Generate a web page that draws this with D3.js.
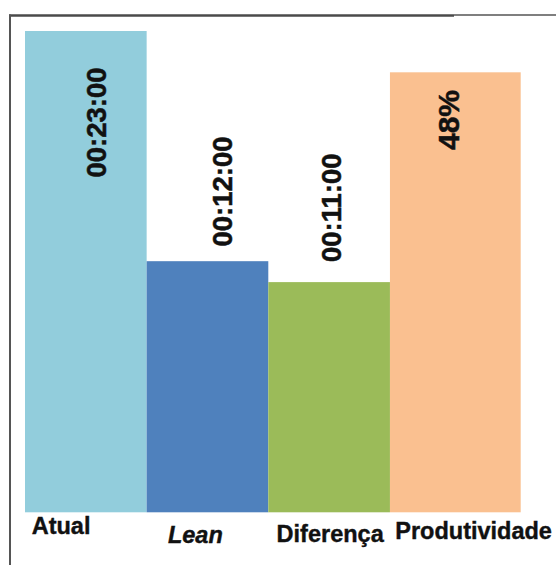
<!DOCTYPE html>
<html>
<head>
<meta charset="utf-8">
<script src="https://cdn.jsdelivr.net/npm/d3@7"></script>
<style>
  html, body { margin: 0; padding: 0; background: #fff; }
  svg { display: block; }
</style>
</head>
<body>
<script>
// ---- data ----
const categories = ["Atual", "Lean", "Diferença", "Produtividade"];
const timeMinutes = [23, 12, 11, null];          // Atual, Lean, Diferença (mm)
const productivity = [null, null, null, 0.48];   // 48%
const valueLabels = ["00:23:00", "00:12:00", "00:11:00", "48%"];
const colors = ["#92CDDC", "#4F81BD", "#9BBB59", "#FAC090"];

// ---- layout (not data) ----
const W = 556, H = 565;
const baseY = 512.3, topY = 31;
const labelLayout = [ // dx from bar center to text baseline, dy from bar top to text center, font size
  { dx: 20.2, dy: 91.5, fs: 27.5 },
  { dx: 24.5, dy: -69.7, fs: 27.5 },
  { dx: 11.8, dy: -74.3, fs: 27.5 },
  { dx: 3.8, dy: 47.7, fs: 30 }
];
const catLayout = [ // dx from bar left, baseline y, italic
  { dx: 6.7, y: 534, it: false },
  { dx: 21.3, y: 543, it: true },
  { dx: 8.3, y: 542, it: false },
  { dx: 5.3, y: 538.5, it: false }
];
const lastExtra = 9.1;

const svg = d3.select("body").append("svg").attr("width", W).attr("height", H);

const x = d3.scaleBand().domain(categories).range([25, 511.6]).padding(0);
const y = d3.scaleLinear().domain([0, 23]).range([baseY, topY]);
const y2 = d3.scaleLinear().domain([0, 0.48 * (baseY - topY) / (baseY - 72.3)]).range([baseY, topY]);

const rows = categories.map((c, i) => ({
  c, i,
  top: timeMinutes[i] != null ? y(timeMinutes[i]) : y2(productivity[i]),
  w: x.bandwidth() + (i === categories.length - 1 ? lastExtra : 0)
}));

// frame lines
svg.append("line").attr("x1", 9).attr("x2", 454).attr("y1", 15.5).attr("y2", 15.5)
  .attr("stroke", "#4a4a4a").attr("stroke-width", 2.5);
svg.append("line").attr("x1", 454).attr("x2", 556).attr("y1", 15).attr("y2", 15)
  .attr("stroke", "#555").attr("stroke-width", 1.6);
svg.append("line").attr("x1", 10).attr("x2", 10).attr("y1", 14.5).attr("y2", H)
  .attr("stroke", "#555").attr("stroke-width", 2);

// bars
svg.selectAll("rect.bar").data(rows).enter().append("rect")
  .attr("class", "bar")
  .attr("x", d => x(d.c))
  .attr("y", d => d.top)
  .attr("width", d => d.w)
  .attr("height", d => baseY - d.top)
  .attr("fill", d => colors[d.i]);

// value labels (rotated)
svg.selectAll("text.val").data(rows).enter().append("text")
  .attr("class", "val")
  .attr("transform", d => {
    const L = labelLayout[d.i];
    const cx = x(d.c) + d.w / 2 + L.dx;
    const cy = d.top + L.dy;
    return `translate(${cx},${cy}) rotate(-90)`;
  })
  .attr("text-anchor", "middle")
  .attr("font-family", "'Liberation Sans', Arial, sans-serif")
  .attr("font-weight", "bold")
  .attr("font-size", d => labelLayout[d.i].fs)
  .attr("fill", "#111")
  .attr("stroke", "#111")
  .attr("stroke-width", 0.5)
  .text(d => valueLabels[d.i]);

// category labels
svg.selectAll("text.cat").data(rows).enter().append("text")
  .attr("class", "cat")
  .attr("x", d => x(d.c) + catLayout[d.i].dx)
  .attr("y", d => catLayout[d.i].y)
  .attr("font-family", "'Liberation Sans', Arial, sans-serif")
  .attr("font-weight", "bold")
  .attr("font-style", d => catLayout[d.i].it ? "italic" : "normal")
  .attr("font-size", 23.5)
  .attr("fill", "#111")
  .attr("stroke", "#111")
  .attr("stroke-width", 0.4)
  .text(d => d.c);
</script>
</body>
</html>
